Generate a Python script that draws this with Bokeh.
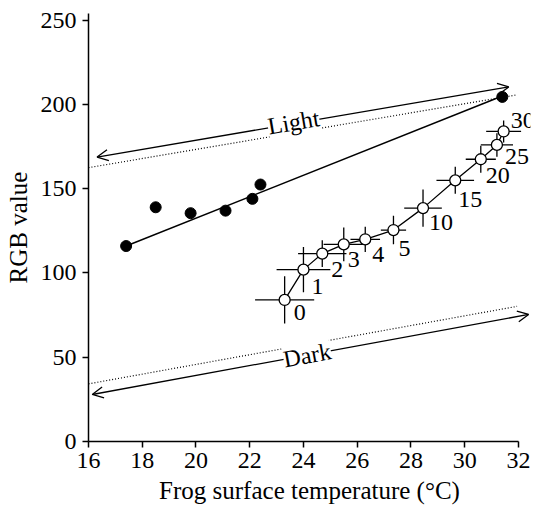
from bokeh.plotting import figure
from bokeh.models import ColumnDataSource, Arrow, OpenHead, Label, Range1d
from bokeh.embed import file_html
from bokeh.resources import INLINE
from bokeh.core.properties import value

# Filled circles (measured)
filled_temp = [17.4, 18.5, 19.8, 21.1, 22.1, 22.4, 31.4]
filled_rgb = [116, 139, 135.5, 137, 144, 152.5, 204.5]
# Fit line end points
fit_temp = [17.4, 31.4]
fit_rgb = [116, 205]

# Open circles (time series, minutes)
time_labels = ["0", "1", "2", "3", "4", "5", "10", "15", "20", "25", "30"]
open_temp = [23.3, 24.0, 24.7, 25.5, 26.3, 27.35, 28.45, 29.65, 30.6, 31.2, 31.45]
open_rgb = [84, 102, 111.5, 117, 120, 125.5, 138.5, 155, 167.5, 176, 184]
temp_err = [1.1, 1.0, 0.9, 0.75, 0.55, 0.47, 0.7, 0.7, 0.56, 0.6, 0.65]
rgb_err = [14, 13.5, 8, 10, 7.5, 8.5, 11, 8, 8, 7, 6.5]

# Light / Dark reference lines and arrows
light_dot_temp = [16.0, 31.9]
light_dot_rgb = [162.5, 205.6]
light_arrow_temp = [16.32, 31.64]
light_arrow_rgb = [168.8, 210.4]
dark_dot_temp = [16.0, 31.95]
dark_dot_rgb = [34.2, 80.2]
dark_arrow_temp = [16.14, 32.38]
dark_arrow_rgb = [27.9, 75.4]

x_ticks = [16, 18, 20, 22, 24, 26, 28, 30, 32]
y_ticks = [0, 50, 100, 150, 200, 250]

# label offsets (pixels) – styling only
lab_dx = [15, 14, 15, 10, 13, 11, 18, 15, 17, 20, 19]
lab_dy = [13, 17, 16, 15, 15, 18, 14, 19, 16, 12, -11]

FONT = "Liberation Serif"
FS = "24px"
FS_AX = "25px"

p = figure(width=535, height=508, output_backend="svg", toolbar_location=None,
           x_range=Range1d(16, 32.45), y_range=Range1d(0, 254),
           min_border_left=88, min_border_right=5, min_border_top=13, min_border_bottom=67)
p.grid.visible = False
p.outline_line_color = None
p.background_fill_color = "white"

for ax in (p.xaxis[0], p.yaxis[0]):
    ax.major_tick_in = 0
    ax.major_tick_out = 6
    ax.minor_tick_line_color = None
    ax.axis_line_width = 1.5
    ax.major_tick_line_width = 1.5
    ax.axis_line_color = "black"
    ax.major_tick_line_color = "black"
    ax.major_label_text_font = FONT
    ax.major_label_text_font_size = FS
    ax.major_label_text_color = "black"
    ax.axis_label_text_font = FONT
    ax.axis_label_text_font_size = FS_AX
    ax.axis_label_text_font_style = "normal"
    ax.axis_label_text_color = "black"

p.xaxis.ticker = x_ticks
p.yaxis.ticker = y_ticks
p.xaxis.bounds = (16, 32)
p.xaxis.axis_label = "Frog surface temperature (°C)"
p.yaxis.axis_label = "RGB value"
p.xaxis.major_label_standoff = 5
p.yaxis.major_label_standoff = 6
p.xaxis.axis_label_standoff = 6
p.yaxis.axis_label_standoff = 6

# dotted reference lines
p.line(light_dot_temp, light_dot_rgb, line_color="black", line_dash="1 2", line_width=1.2)
p.line(dark_dot_temp, dark_dot_rgb, line_color="black", line_dash="1 2", line_width=1.2)

# arrows
for xs, ys in ((light_arrow_temp, light_arrow_rgb), (dark_arrow_temp, dark_arrow_rgb)):
    p.add_layout(Arrow(x_start=xs[0], y_start=ys[0], x_end=xs[1], y_end=ys[1],
                       line_width=1.3, line_color="black",
                       start=OpenHead(size=11, line_width=1.3),
                       end=OpenHead(size=11, line_width=1.3)))

p.add_layout(Label(x=23.63, y=189.4, text="Light", angle=9.65, angle_units="deg",
                   text_align="center", text_baseline="middle", text_font=FONT,
                   text_font_size=FS, text_color="black",
                   background_fill_color="white", background_fill_alpha=1.0))
p.add_layout(Label(x=24.14, y=51.1, text="Dark", angle=10.4, angle_units="deg",
                   text_align="center", text_baseline="middle", text_font=FONT,
                   text_font_size=FS, text_color="black",
                   background_fill_color="white", background_fill_alpha=1.0))

# fit line and filled points
p.line(fit_temp, fit_rgb, line_color="black", line_width=1.5)
p.scatter(filled_temp, filled_rgb, size=11, marker="circle", fill_color="black", line_color="black")

# open series
src = ColumnDataSource(dict(
    x=open_temp, y=open_rgb,
    x0=[a - b for a, b in zip(open_temp, temp_err)],
    x1=[a + b for a, b in zip(open_temp, temp_err)],
    y0=[a - b for a, b in zip(open_rgb, rgb_err)],
    y1=[a + b for a, b in zip(open_rgb, rgb_err)],
    lab=time_labels, dx=lab_dx, dy=lab_dy))
p.segment(x0="x0", y0="y", x1="x1", y1="y", source=src, line_color="black", line_width=1.3)
p.segment(x0="x", y0="y0", x1="x", y1="y1", source=src, line_color="black", line_width=1.3)
p.line("x", "y", source=src, line_color="black", line_width=1.3)
p.scatter("x", "y", source=src, size=11, marker="circle", fill_color="white",
          line_color="black", line_width=1.3)
p.text("x", "y", text="lab", source=src, x_offset="dx", y_offset="dy",
       text_align="center", text_baseline="middle", text_font=value(FONT),
       text_font_size=FS, text_color="black")

open("out.html", "w").write(file_html(p, INLINE))
